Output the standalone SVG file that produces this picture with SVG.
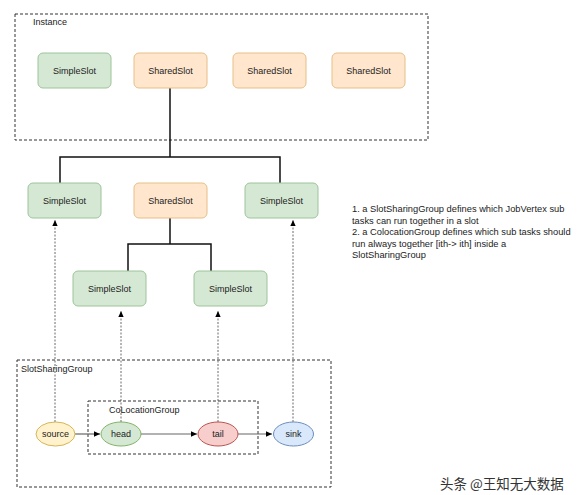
<svg xmlns="http://www.w3.org/2000/svg" width="588" height="495" viewBox="0 0 588 495">
<style>
text{font-family:"Liberation Sans",Arial,sans-serif;fill:#222;}
.lbl{font-size:9px;text-anchor:middle;dominant-baseline:central;}
.grp{fill:none;stroke:#333;stroke-width:1;stroke-dasharray:3,2;}
.simple{fill:#d5e8d4;stroke:#9cc49a;stroke-width:1;}
.shared{fill:#ffe6cc;stroke:#e6bf87;stroke-width:1;}
.tree{fill:none;stroke:#111;stroke-width:1.5;}
.dep{fill:none;stroke:#444;stroke-width:0.8;stroke-dasharray:2,1.5;}
.flow{fill:none;stroke:#666;stroke-width:1.2;}
.note{font-size:9.3px;}
</style>
<defs>
<marker id="ah" viewBox="0 0 10 10" refX="9" refY="5" markerWidth="7" markerHeight="7" orient="auto" markerUnits="userSpaceOnUse">
<path d="M0,1 L9,5 L0,9 z" fill="#000"/>
</marker>
</defs>
<rect width="588" height="495" fill="#fff"/>
<g id="instance">
<rect class="grp" x="15" y="14" width="413" height="126"/>
<text x="33" y="25" font-size="9">Instance</text>
</g>
<g id="slotSharingGroup">
<rect class="grp" x="17" y="360" width="314" height="127"/>
<text x="21" y="372" font-size="9">SlotSharingGroup</text>
</g>
<g id="coLocationGroup">
<rect class="grp" x="88" y="401" width="170" height="53"/>
<text x="109" y="413" font-size="9">CoLocationGroup</text>
</g>
<g id="connectors">
<path class="tree" d="M170,88 V157 M60,183 V157 H280 V183 M170,218 V244 M128,271 V244 H211 V271"/>
<path class="dep" d="M55,422 V220" marker-end="url(#ah)"/>
<path class="dep" d="M121,422 V311" marker-end="url(#ah)"/>
<path class="dep" d="M218,422 V311" marker-end="url(#ah)"/>
<path class="dep" d="M293,422 V220" marker-end="url(#ah)"/>
<path class="flow" d="M75,434 H100" marker-end="url(#ah)"/>
<path class="flow" d="M141,434 H197" marker-end="url(#ah)"/>
<path class="flow" d="M238,434 H272" marker-end="url(#ah)"/>
</g>
<g id="i-simple1"><rect class="simple" x="38" y="53" width="73" height="35" rx="5"/><text class="lbl" x="74.5" y="70.5">SimpleSlot</text></g>
<g id="i-shared1"><rect class="shared" x="134" y="53" width="73" height="35" rx="5"/><text class="lbl" x="170.5" y="70.5">SharedSlot</text></g>
<g id="i-shared2"><rect class="shared" x="233" y="53" width="73" height="35" rx="5"/><text class="lbl" x="269.5" y="70.5">SharedSlot</text></g>
<g id="i-shared3"><rect class="shared" x="332" y="53" width="73" height="35" rx="5"/><text class="lbl" x="368.5" y="70.5">SharedSlot</text></g>
<g id="m-simple1"><rect class="simple" x="28" y="183" width="73" height="35" rx="5"/><text class="lbl" x="64.5" y="200.5">SimpleSlot</text></g>
<g id="m-shared"><rect class="shared" x="134" y="183" width="73" height="35" rx="5"/><text class="lbl" x="170.5" y="200.5">SharedSlot</text></g>
<g id="m-simple2"><rect class="simple" x="245" y="183" width="73" height="35" rx="5"/><text class="lbl" x="281.5" y="200.5">SimpleSlot</text></g>
<g id="b-simple1"><rect class="simple" x="73" y="271" width="73" height="35" rx="5"/><text class="lbl" x="109.5" y="288.5">SimpleSlot</text></g>
<g id="b-simple2"><rect class="simple" x="194" y="271" width="73" height="35" rx="5"/><text class="lbl" x="230.5" y="288.5">SimpleSlot</text></g>
<g id="source"><ellipse cx="55.5" cy="434" rx="19.5" ry="12" fill="#fff2cc" stroke="#d6b656"/><text class="lbl" x="55.5" y="434">source</text></g>
<g id="head"><ellipse cx="121" cy="434" rx="20" ry="12" fill="#d5e8d4" stroke="#82b366"/><text class="lbl" x="121" y="434">head</text></g>
<g id="tail"><ellipse cx="218" cy="434" rx="20" ry="12" fill="#f8cecc" stroke="#b85450"/><text class="lbl" x="218" y="434">tail</text></g>
<g id="sink"><ellipse cx="293.5" cy="434" rx="20" ry="12" fill="#dae8fc" stroke="#6c8ebf"/><text class="lbl" x="293.5" y="434">sink</text></g>
<g id="note">
<text class="note" x="352" y="212">1. a SlotSharingGroup defines which JobVertex sub</text>
<text class="note" x="352" y="223.5">tasks can run together in a slot</text>
<text class="note" x="352" y="235">2. a ColocationGroup defines which sub tasks should</text>
<text class="note" x="352" y="246.5">run always together [ith-&gt; ith] inside a</text>
<text class="note" x="352" y="258">SlotSharingGroup</text>
</g>
<text x="440" y="489" font-size="13.5" style="font-family:'Noto Sans CJK SC','Liberation Sans',sans-serif;fill:#333">头条 @王知无大数据</text>
</svg>
